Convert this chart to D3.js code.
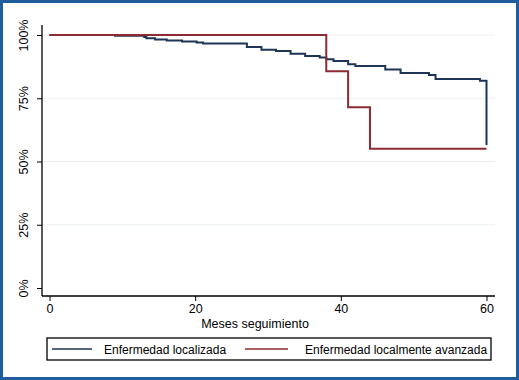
<!DOCTYPE html>
<html><head><meta charset="utf-8">
<script src="https://cdn.jsdelivr.net/npm/d3@7"></script>
<style>html,body{margin:0;padding:0;background:#fff;}svg{display:block;}</style>
</head><body>
<script>
// Data
const seriesNames = ["Enfermedad localizada", "Enfermedad localmente avanzada"];
const localTimes = [0, 9, 13, 13.3, 14.5, 16.1, 18.2, 20.2, 21.1, 27.1, 29.1, 31.1, 33.1, 35.1, 37.1, 38.0, 39.0, 41.0, 42.0, 46.1, 48.2, 52.1, 53.0, 59.1, 60];
const localSurv  = [1.0, 0.997, 0.992, 0.987, 0.982, 0.978, 0.974, 0.970, 0.966, 0.953, 0.942, 0.937, 0.926, 0.917, 0.911, 0.904, 0.897, 0.884, 0.877, 0.864, 0.850, 0.842, 0.826, 0.819, 0.565];
const advTimes = [0, 38, 41, 44, 60];
const advSurv  = [1.0, 0.857, 0.714, 0.55, 0.55];
const xTicks = [0, 20, 40, 60];
const yTicks = [0, 0.25, 0.5, 0.75, 1];
const yTickLabels = ["0%", "25%", "50%", "75%", "100%"];
const xTitle = "Meses seguimiento";
const colors = ["#1c3455", "#8e2a31"];

const W = 519, H = 380;
const svg = d3.select("body").append("svg").attr("width", W).attr("height", H);
const font = "'Liberation Sans', Arial, sans-serif";

// frame
svg.append("rect").attr("x", 1.5).attr("y", 1.5).attr("width", W - 3).attr("height", H - 3)
  .attr("fill", "#fff").attr("stroke", "#1f5d9c").attr("stroke-width", 3);

const x = d3.scaleLinear().domain([0, 60]).range([49.5, 486.5]);
const y = d3.scaleLinear().domain([0, 1]).range([288, 35]);
const axX = 42, axY = 296;

// gridlines
svg.append("g").selectAll("line").data(yTicks.filter(d => d > 0)).join("line")
  .attr("x1", axX + 1).attr("x2", 495).attr("y1", d => y(d)).attr("y2", d => y(d))
  .attr("stroke", "#e8eff1").attr("stroke-width", 1.2);

// x axis
const gx = svg.append("g").attr("transform", `translate(0,${axY})`)
  .call(d3.axisBottom(x).tickValues(xTicks).tickSize(5).tickPadding(3).tickFormat(d3.format("d")));
gx.select(".domain").remove();
gx.append("line").attr("x1", axX).attr("x2", 495).attr("y1", 0).attr("y2", 0).attr("stroke", "#000").attr("stroke-width", 1.3);
gx.selectAll(".tick line").attr("stroke", "#000").attr("stroke-width", 1);
gx.selectAll(".tick text").attr("font-family", font).attr("font-size", 12.5).attr("fill", "#000");

// y axis
const gy = svg.append("g").attr("transform", `translate(${axX},0)`)
  .call(d3.axisLeft(y).tickValues(yTicks).tickSize(5).tickPadding(0).tickFormat((d, i) => yTickLabels[i]));
gy.select(".domain").remove();
gy.append("line").attr("x1", 0).attr("x2", 0).attr("y1", 25).attr("y2", axY).attr("stroke", "#000").attr("stroke-width", 1.3);
gy.selectAll(".tick line").attr("stroke", "#000").attr("stroke-width", 1);
gy.selectAll(".tick text").attr("font-family", font).attr("font-size", 12.5).attr("fill", "#000")
  .attr("text-anchor", "middle").attr("dy", null).attr("x", 0)
  .attr("transform", "translate(-17,0) rotate(-90)").attr("dominant-baseline", "middle");

// x title
svg.append("text").attr("x", x(30) - 13).attr("y", 328).attr("text-anchor", "middle")
  .attr("font-family", font).attr("font-size", 12.5).attr("fill", "#000").text(xTitle);

// lines
const line = d3.line().x(d => x(d[0])).y(d => y(d[1])).curve(d3.curveStepAfter);
const series = [
  d3.zip(advTimes, advSurv),
  d3.zip(localTimes, localSurv)
];
svg.append("path").datum(series[1]).attr("d", line).attr("fill", "none")
  .attr("stroke", colors[0]).attr("stroke-width", 2);
svg.append("path").datum(series[0]).attr("d", line).attr("fill", "none")
  .attr("stroke", colors[1]).attr("stroke-width", 2);

// legend
const lg = svg.append("g");
lg.append("rect").attr("x", 47).attr("y", 338).attr("width", 444).attr("height", 22)
  .attr("fill", "#fff").attr("stroke", "#000").attr("stroke-width", 1.3);
const items = [
  {x1: 52, x2: 92, tx: 104, c: colors[0], t: seriesNames[0]},
  {x1: 245, x2: 288, tx: 305, c: colors[1], t: seriesNames[1]}
];
items.forEach(it => {
  lg.append("line").attr("x1", it.x1).attr("x2", it.x2).attr("y1", 349).attr("y2", 349)
    .attr("stroke", it.c).attr("stroke-width", 1.3);
  lg.append("text").attr("x", it.tx).attr("y", 353.5).attr("font-family", font).attr("font-size", 12)
    .attr("fill", "#000").text(it.t);
});
</script>
</body></html>
